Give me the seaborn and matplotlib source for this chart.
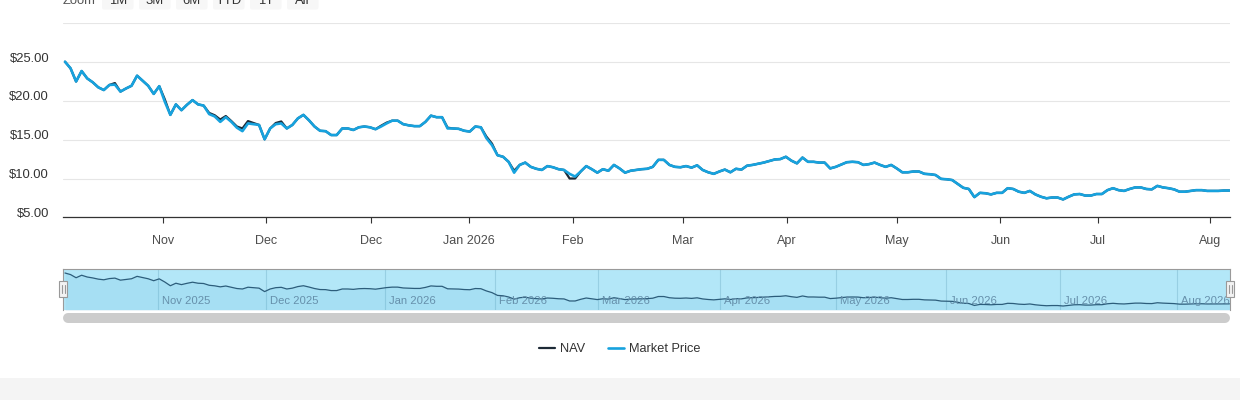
import numpy as np
import pandas as pd
import matplotlib
matplotlib.use('Agg')
import matplotlib.pyplot as plt
import seaborn as sns
from matplotlib.transforms import Affine2D, ScaledTranslation, blended_transform_factory
from matplotlib.patches import Rectangle, FancyBboxPatch
from matplotlib.lines import Line2D

# daily closes (ordinal trading-day axis)
market_price = [
    25.05, 24.2, 22.5, 23.85, 22.9, 22.4, 21.75, 21.4, 22.05, 22.1, 21.2, 21.6,
    21.95, 23.25, 22.6, 21.95, 20.9, 21.9, 19.9, 18.2, 19.55, 18.8, 19.5, 20.1,
    19.55, 19.4, 18.3, 18.0, 17.3, 17.9, 17.3, 16.55, 16.1, 17.1, 17.0, 16.9,
    15.05, 16.45, 17.0, 17.1, 16.45, 16.9, 17.75, 18.2, 17.5, 16.7, 16.15, 16.1,
    15.6, 15.6, 16.45, 16.45, 16.25, 16.6, 16.7, 16.6, 16.35, 16.7, 17.1, 17.45,
    17.45, 17.0, 16.85, 16.75, 16.75, 17.3, 18.1, 17.9, 17.9, 16.45, 16.45,
    16.4, 16.15, 16.05, 16.7, 16.6, 15.2, 14.3, 13.0, 12.8, 12.15, 10.75, 11.75,
    12.05, 11.5, 11.25, 11.1, 11.6, 11.45, 11.2, 11.1, 10.6, 10.25, 10.9, 11.6,
    11.2, 10.75, 11.2, 11.0, 11.75, 11.3, 10.75, 11.0, 11.1, 11.2, 11.25, 11.5,
    12.4, 12.4, 11.75, 11.5, 11.45, 11.6, 11.4, 11.7, 11.1, 10.8, 10.6, 10.9,
    11.15, 10.8, 11.25, 11.15, 11.65, 11.75, 11.9, 12.05, 12.25, 12.45, 12.5, 12.8,
    12.3, 11.95, 12.7, 12.15, 12.15, 12.05, 12.05, 11.3, 11.5, 11.8, 12.1,
    12.15, 12.1, 11.75, 11.85, 12.05, 11.75, 11.5, 11.75, 11.3, 10.8, 10.8, 10.9,
    10.9, 10.6, 10.55, 10.45, 9.95, 9.9, 9.8, 9.3, 8.8, 8.65, 7.6, 8.15,
    8.1, 7.95, 8.15, 8.15, 8.75, 8.65, 8.3, 8.15, 8.4, 7.95, 7.65, 7.45,
    7.55, 7.55, 7.3, 7.65, 7.95, 8.0, 7.8, 7.8, 8.0, 8.0, 8.5, 8.75,
    8.5, 8.4, 8.65, 8.85, 8.85, 8.65, 8.6, 9.05, 8.85, 8.75, 8.6, 8.3,
    8.3, 8.4, 8.5, 8.5, 8.4, 8.4, 8.4, 8.45, 8.45,
]
nav = [
    25.05, 24.2, 22.5, 23.85, 22.9, 22.4, 21.75, 21.4, 22.05, 22.3, 21.2, 21.6,
    21.95, 23.25, 22.6, 21.95, 20.9, 21.9, 20.2, 18.2, 19.55, 18.8, 19.5, 20.1,
    19.55, 19.4, 18.45, 18.15, 17.6, 18.05, 17.4, 16.7, 16.45, 17.4, 17.15, 16.9,
    15.05, 16.45, 17.15, 17.35, 16.45, 16.9, 17.75, 18.2, 17.5, 16.7, 16.15, 16.1,
    15.6, 15.6, 16.45, 16.45, 16.25, 16.6, 16.7, 16.6, 16.35, 16.8, 17.2, 17.45,
    17.45, 17.0, 16.85, 16.75, 16.75, 17.3, 18.1, 17.9, 17.9, 16.55, 16.45,
    16.4, 16.15, 16.05, 16.7, 16.6, 15.4, 14.5, 13.0, 12.8, 12.15, 11.0, 11.75,
    12.05, 11.5, 11.25, 11.1, 11.6, 11.45, 11.2, 11.1, 10.0, 10.0, 10.9, 11.6,
    11.2, 10.75, 11.2, 11.0, 11.75, 11.3, 10.75, 11.0, 11.1, 11.2, 11.25, 11.5,
    12.4, 12.4, 11.75, 11.5, 11.45, 11.6, 11.4, 11.7, 11.1, 10.8, 10.6, 10.9,
    11.15, 10.8, 11.25, 11.15, 11.65, 11.75, 11.9, 12.05, 12.25, 12.45, 12.5, 12.8,
    12.3, 11.95, 12.7, 12.15, 12.15, 12.05, 12.05, 11.3, 11.5, 11.8, 12.1,
    12.15, 12.1, 11.75, 11.85, 12.05, 11.75, 11.5, 11.75, 11.3, 10.8, 10.8, 10.9,
    10.9, 10.6, 10.55, 10.45, 9.95, 9.9, 9.8, 9.3, 8.8, 8.65, 7.6, 8.15,
    8.1, 7.95, 8.15, 8.15, 8.75, 8.65, 8.3, 8.15, 8.4, 7.95, 7.65, 7.45,
    7.55, 7.55, 7.3, 7.65, 7.95, 8.0, 7.8, 7.8, 8.0, 8.0, 8.5, 8.75,
    8.5, 8.4, 8.65, 8.85, 8.85, 8.65, 8.6, 9.05, 8.85, 8.75, 8.6, 8.3,
    8.3, 8.4, 8.5, 8.5, 8.4, 8.4, 8.4, 8.45, 8.45,
]

# axis labels
tick_labels = ['Nov', 'Dec', 'Dec', 'Jan 2026', 'Feb', 'Mar', 'Apr', 'May', 'Jun', 'Jul', 'Aug']
tick_day = [17.7, 36.3, 55.2, 72.9, 91.6, 111.5, 130.2, 150.1, 168.7, 186.3, 206.5]
nav_labels = ['Nov 2025', 'Dec 2025', 'Jan 2026', 'Feb 2026', 'Mar 2026',
              'Apr 2026', 'May 2026', 'Jun 2026', 'Jul 2026', 'Aug 2026']
nav_day = [16.8, 36.3, 57.7, 77.6, 96.1, 118.1, 139.0, 158.9, 179.5, 200.6]
y_ticks = [5, 10, 15, 20, 25, 30]
zoom_buttons = ['1M', '3M', '6M', 'YTD', '1Y', 'All']

df = pd.DataFrame({'day': np.arange(len(market_price)),
                   'NAV': nav, 'Market Price': market_price})

sns.set_style('white')
plt.rcParams['font.family'] = ['Liberation Sans', 'DejaVu Sans']

NAV_C = '#1d2a36'
MP_C = '#17a2de'
W, H = 1240, 400
fig = plt.figure(figsize=(12.4, 4), dpi=100)
px = Affine2D().scale(1 / W, -1 / H).translate(0, 1) + fig.transFigure


def box(x0, y0, x1, y1):
    return [x0 / W, 1 - y1 / H, (x1 - x0) / W, (y1 - y0) / H]


# main chart
ax = fig.add_axes(box(63, 23.3, 1230, 217.3))
sns.lineplot(data=df, x='day', y='NAV', ax=ax, color=NAV_C, lw=1.6)
sns.lineplot(data=df, x='day', y='Market Price', ax=ax, color=MP_C, lw=1.9)
ax.set_xlim(-0.36, 210.1)
ax.set_ylim(5, 30)
ax.set_xlabel('')
ax.set_ylabel('')
ax.set_yticks(y_ticks)
ax.set_yticklabels(['$%.2f' % v if v < 30 else '' for v in y_ticks])
ax.set_xticks(tick_day)
ax.set_xticklabels(tick_labels)
ax.set_axisbelow(True)
ax.yaxis.grid(True, color='#e6e6e6', lw=0.8)
ax.xaxis.grid(False)
for s in ['top', 'right', 'left']:
    ax.spines[s].set_visible(False)
ax.spines['bottom'].set_color('#333333')
ax.spines['bottom'].set_linewidth(0.9)
ax.tick_params(axis='y', left=False, length=0, pad=10, labelsize=9.4, labelcolor='#333333')
ax.tick_params(axis='x', bottom=True, direction='out', length=4.3, width=0.8,
               color='#333333', pad=8.8, labelsize=9, labelcolor='#4d4d4d')
up = ScaledTranslation(0, 5 / 100, fig.dpi_scale_trans)
for lab in ax.get_yticklabels():
    lab.set_transform(lab.get_transform() + up)

# navigator
nax = fig.add_axes(box(63, 269, 1230, 310))
nax.set_facecolor('#b3e7f8')
nax.fill_between(df['day'], df['NAV'], 0, color='#4aa9d2', alpha=0.12, lw=0)
sns.lineplot(data=df, x='day', y='NAV', ax=nax, color='#2c5d7b', lw=0.9)
nax.set_xlim(-0.36, 210.1)
nax.set_ylim(5.15, 27.2)
nax.set_xticks([])
nax.set_yticks([])
nax.set_xlabel('')
nax.set_ylabel('')
for d in nav_day:
    nax.axvline(d, color='#97cfe3', lw=0.8, zorder=0.5)
lab_tr = blended_transform_factory(nax.transData, px) + ScaledTranslation(4 / 100, 0, fig.dpi_scale_trans)
for d, lab in zip(nav_day, nav_labels):
    nax.text(d, 301, lab, transform=lab_tr, ha='left', va='center',
             fontsize=8.1, color='#6690ab', clip_on=False)
for s in ['top', 'left', 'right']:
    nax.spines[s].set_color('#9a9a9a')
    nax.spines[s].set_linewidth(0.8)
nax.spines['bottom'].set_visible(False)

# navigator handles
for hx in [63, 1230]:
    fig.add_artist(Rectangle((hx - 4, 281), 8, 16, transform=px,
                             facecolor='#f2f2f2', edgecolor='#999999', lw=0.8))
    for lx in [hx - 1.5, hx + 1.5]:
        fig.add_artist(Line2D([lx, lx], [285, 293], transform=px, color='#999999', lw=0.8))

# scrollbar
fig.add_artist(Line2D([68, 1225], [318, 318], transform=px, color='#cccccc',
                      lw=7.2, solid_capstyle='round'))

# range selector (cut off at top, as in the source page)
fig.text(63, 4.5, 'Zoom', transform=px, fontsize=9.4, color='#555555', va='baseline')
bx = [102, 139, 176, 213, 250, 287]
for x0, lab in zip(bx, zoom_buttons):
    fig.add_artist(FancyBboxPatch((x0, -14), 31.5, 23.5, transform=px,
                                  boxstyle='round,pad=0,rounding_size=2',
                                  facecolor='#f7f7f7', edgecolor='none'))
    fig.text(x0 + 15.75, 4.5, lab, transform=px, fontsize=9.4, color='#333333',
             ha='center', va='baseline')

# legend
handles = [Line2D([0], [0], color=NAV_C, lw=1.6), Line2D([0], [0], color=MP_C, lw=1.9)]
leg = fig.legend(handles, ['NAV', 'Market Price'], loc='center',
                 bbox_to_anchor=(620 / W, 1 - 349.5 / H), ncol=2, frameon=False,
                 fontsize=9.2, handlelength=1.25, handletextpad=0.4, columnspacing=1.8)
for t in leg.get_texts():
    t.set_color('#333333')

# grey footer band
fig.add_artist(Rectangle((0, 378), W, 22, transform=px, facecolor='#f4f4f4', edgecolor='none'))

fig.savefig('out.png', dpi=100)
